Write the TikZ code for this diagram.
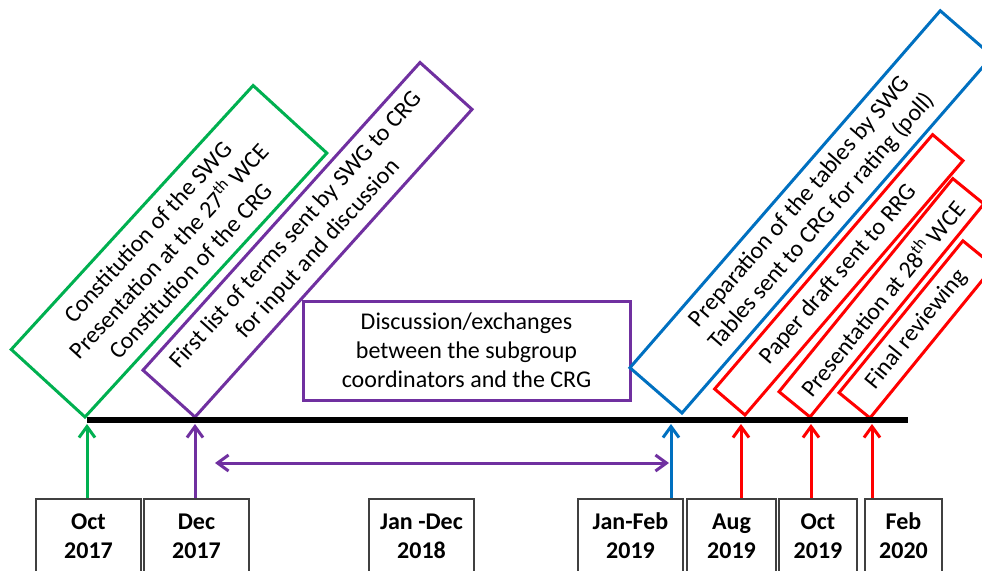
\documentclass[tikz,border=0pt]{standalone}
\usepackage{fontspec}
\setmainfont{Carlito}
\usetikzlibrary{arrows.meta}
\definecolor{swggreen}{RGB}{0,176,80}
\definecolor{crgpurple}{RGB}{112,48,160}
\definecolor{pollblue}{RGB}{0,112,192}
\tikzstyle{datebox} = [rectangle, draw=black!75, line width=1.2pt, minimum height=74pt, inner sep=0pt, align=center, font=\fontsize{24}{29}\selectfont\bfseries]
\tikzstyle{uparrow} = [line width=3pt, ->]

\begin{document}
\begin{tikzpicture}[
            x=1pt, y=-1pt,
            >={Straight Barb[length=11pt,width=16pt]},
            every node/.style={font=\fontsize{24}{29}\selectfont},
            phase/.style={rectangle, draw, line width=3pt, outer sep=0pt, inner sep=0pt, anchor=south west, align=center}
        ]
            \useasboundingbox (0,0) rectangle (982,570);

            % Phases
            \node (swg) [phase, draw=swggreen, rotate=47.5, minimum width=358pt, minimum height=100pt] at (85,417) {Constitution of the SWG\\Presentation at the 27\textsuperscript{th} WCE\\Constitution of the CRG};
            \node (terms) [phase, draw=crgpurple, rotate=48, minimum width=414pt, minimum height=70pt] at (195,417) {First list of terms sent by SWG to CRG\\for input and discussion};
            \node (exchanges) [rectangle, draw=crgpurple, line width=3pt, minimum width=327pt, minimum height=99pt, align=center] at (466.5,350.5) {Discussion/exchanges\\between the subgroup\\coordinators and the CRG};
            \node (tables) [phase, draw=pollblue, rotate=49, minimum width=473pt, minimum height=69pt] at (682,413) {Preparation of the tables by SWG\\Tables sent to CRG for rating (poll)};
            \node (draft) [phase, draw=red, rotate=49.4, minimum width=335pt, minimum height=40pt] at (745,415) {Paper draft sent to RRG};
            \node (wce28) [phase, draw=red, rotate=50.8, minimum width=275pt, minimum height=40pt] at (810,417) {Presentation at 28\textsuperscript{th} WCE};
            \node (review) [phase, draw=red, rotate=50.8, minimum width=196pt, minimum height=40pt] at (870,418) {Final reviewing};

            % Dates
            \node (oct17) [datebox, minimum width=105pt] at (88.5,536) {Oct\\2017};
            \node (dec17) [datebox, minimum width=105pt] at (196.5,536) {Dec\\2017};
            \node (year18) [datebox, minimum width=105pt] at (421.5,536) {Jan -Dec\\2018};
            \node (janfeb19) [datebox, minimum width=105pt] at (630.5,536) {Jan-Feb\\2019};
            \node (aug19) [datebox, minimum width=89pt] at (731.5,536) {Aug\\2019};
            \node (oct19) [datebox, minimum width=78pt] at (818,536) {Oct\\2019};
            \node (feb20) [datebox, minimum width=77pt] at (903.5,536) {Feb\\2020};

            % Timeline
            \coordinate (tl-start) at (87,420);
            \coordinate (tl-end) at (908,420);
            \draw [line width=6pt] (tl-start) -- (tl-end);
            \coordinate (t-oct17) at (87,424);
            \coordinate (t-dec17) at (195,424);
            \coordinate (t-janfeb19) at (671,424);
            \coordinate (t-aug19) at (741,424);
            \coordinate (t-oct19) at (811,424);
            \coordinate (t-feb20) at (872,424);
            \coordinate (span-start) at (215,463);
            \coordinate (span-end) at (669,463);

            % Arrows
            \draw [uparrow, swggreen] (oct17.north -| t-oct17) -- (t-oct17);
            \draw [uparrow, crgpurple] (dec17.north -| t-dec17) -- (t-dec17);
            \draw [uparrow, pollblue] (janfeb19.north -| t-janfeb19) -- (t-janfeb19);
            \draw [uparrow, red] (aug19.north -| t-aug19) -- (t-aug19);
            \draw [uparrow, red] (oct19.north -| t-oct19) -- (t-oct19);
            \draw [uparrow, red] (feb20.north -| t-feb20) -- (t-feb20);
            \draw [<->, line width=3pt, crgpurple] (span-start) -- (span-end);
        \end{tikzpicture}
\end{document}
